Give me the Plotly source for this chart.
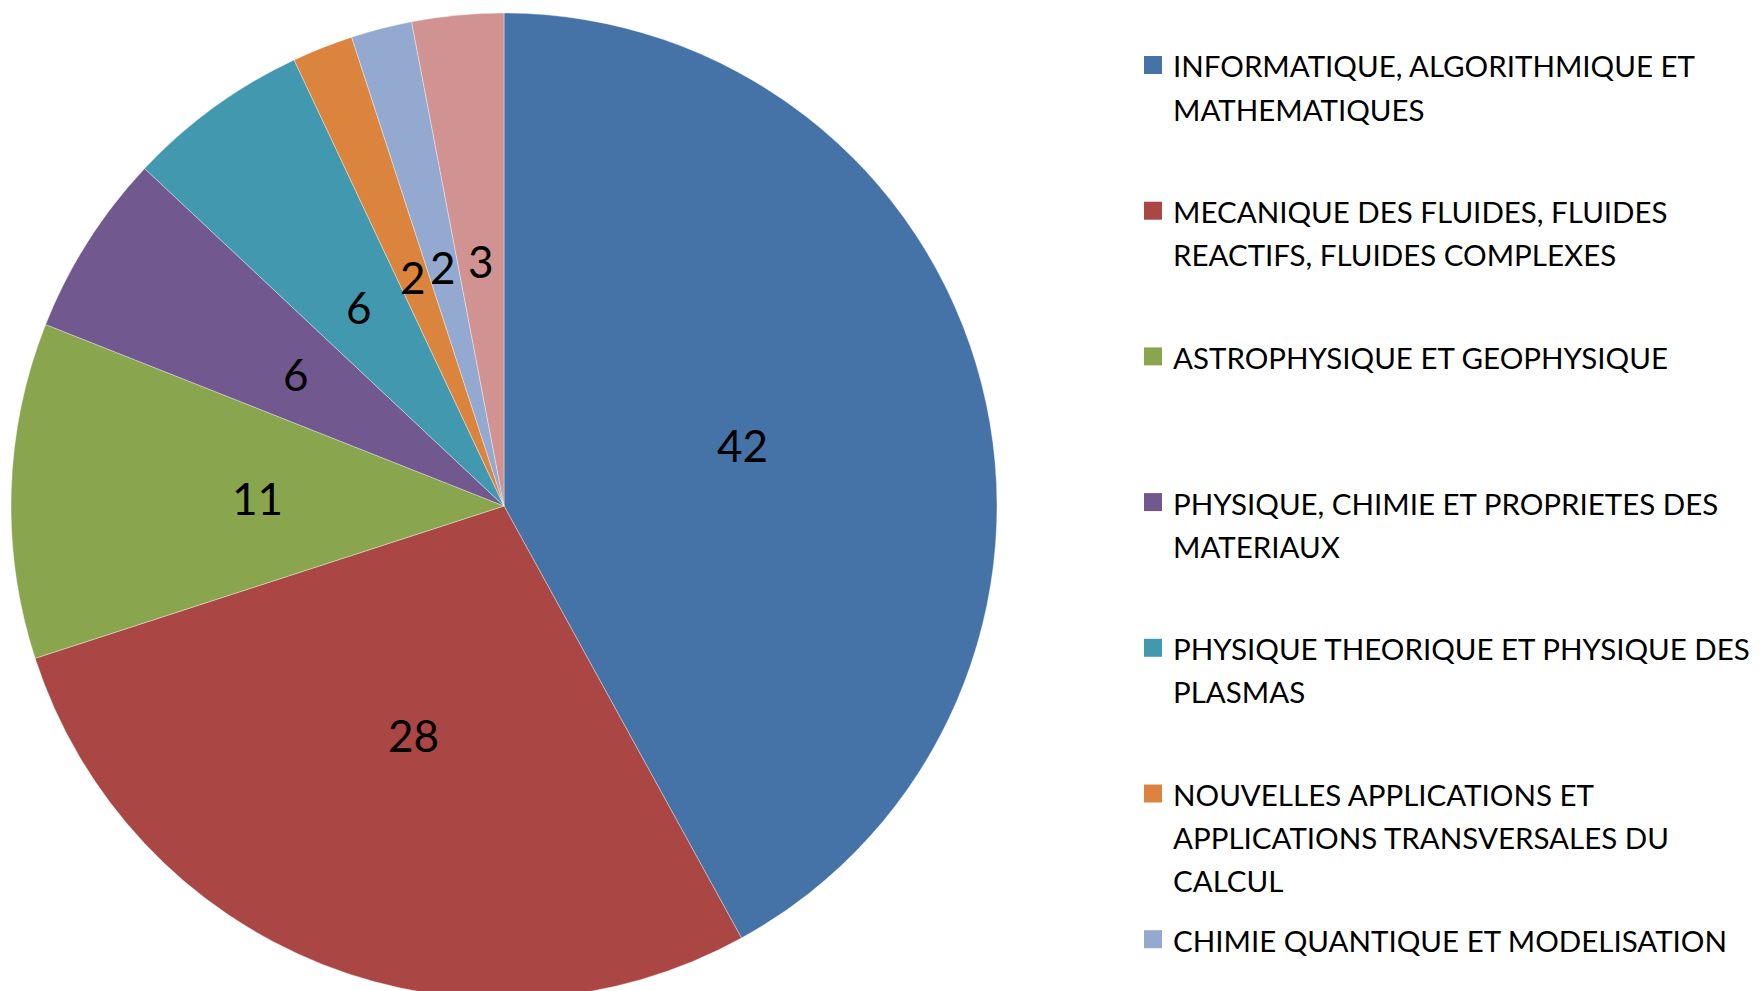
import math
import plotly.graph_objects as go

# ---- data ----
categories = [
    "INFORMATIQUE, ALGORITHMIQUE ET<br>MATHEMATIQUES",
    "MECANIQUE DES FLUIDES, FLUIDES<br>REACTIFS, FLUIDES COMPLEXES",
    "ASTROPHYSIQUE ET GEOPHYSIQUE",
    "PHYSIQUE, CHIMIE ET PROPRIETES DES<br>MATERIAUX",
    "PHYSIQUE THEORIQUE ET PHYSIQUE DES<br>PLASMAS",
    "NOUVELLES APPLICATIONS ET<br>APPLICATIONS TRANSVERSALES DU<br>CALCUL",
    "CHIMIE QUANTIQUE ET MODELISATION",
    "ENVIRONNEMENT",
]
values = [42, 28, 11, 6, 6, 2, 2, 3]
colors = ["#4572A7", "#AA4643", "#89A54E", "#71588F",
          "#4198AF", "#DB843D", "#93A9CF", "#D19392"]
legend_visible = 7  # the last legend entry falls below the visible page

W, H = 1761, 991
OFF = 8            # page body margin offset
MT, MB = 5, 0
PH = H - MT - MB
R = PH / 2.0
CX = 504.0 - OFF
CY = MT + R
FONT = "Lato"


def py(ypx):
    return 1 - (ypx - MT) / PH


def px(xpx):
    return xpx / W


dom_x = [px(CX - R), px(CX + R)]

fig = go.Figure()
fig.add_trace(go.Pie(
    labels=[c.replace("<br>", " ") for c in categories],
    values=values,
    sort=False,
    direction="clockwise",
    rotation=0,
    marker=dict(colors=colors, line=dict(color="rgba(255,255,255,0.6)", width=0.6)),
    textinfo="none",
    hoverinfo="label+value",
    showlegend=False,
    domain=dict(x=dom_x, y=[0, 1]),
))

annotations = []
shapes = []

# value labels at half radius, middle angle of each slice
total = sum(values)
acc = 0
for v in values:
    ang = math.radians((acc + v / 2) / total * 360)
    acc += v
    lx = CX + 0.5 * R * math.sin(ang)
    ly = CY - 0.5 * R * math.cos(ang)
    annotations.append(dict(
        xref="paper", yref="paper", x=px(lx), y=py(ly),
        xanchor="center", yanchor="middle", text=str(v), showarrow=False,
        font=dict(family=FONT, size=44, color="black"),
    ))

# manual legend
pitch = 145.7
line_gap = 43
for i in range(legend_visible):
    top = 56 - OFF + pitch * i
    shapes.append(dict(
        type="rect", xref="paper", yref="paper",
        x0=px(1136), x1=px(1154), y0=py(top), y1=py(top + 18),
        fillcolor=colors[i], line=dict(width=0),
    ))
    for j, line in enumerate(categories[i].split("<br>")):
        cy = 66 - OFF + pitch * i + line_gap * j
        annotations.append(dict(
            xref="paper", yref="paper",
            x=px(1163), y=py(cy),
            xanchor="left", yanchor="middle",
            text=line, showarrow=False,
            font=dict(family=FONT, size=29.5, color="black"),
        ))

fig.update_layout(
    width=W, height=H,
    margin=dict(l=0, r=0, t=MT, b=MB),
    paper_bgcolor="white",
    plot_bgcolor="white",
    shapes=shapes,
    annotations=annotations,
)

fig.write_html("out.html")
